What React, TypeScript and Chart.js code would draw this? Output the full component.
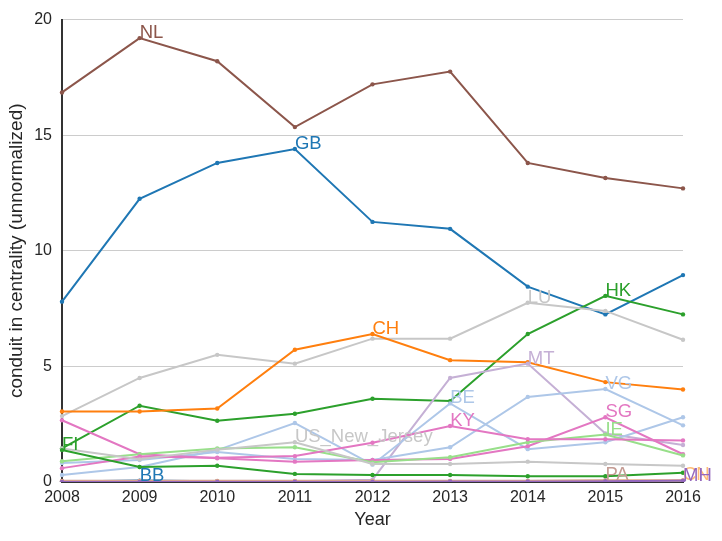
import React, { useEffect, useRef } from 'react';
import { Chart, registerables } from 'chart.js';
Chart.register(...registerables);

const years = ['2008', '2009', '2010', '2011', '2012', '2013', '2014', '2015', '2016'];

const NL = [16.85, 19.2, 18.2, 15.35, 17.2, 17.75, 13.8, 13.15, 12.7];
const GB = [7.8, 12.25, 13.8, 14.4, 11.25, 10.95, 8.45, 7.25, 8.95];
const HK = [1.45, 3.3, 2.65, 2.95, 3.6, 3.5, 6.4, 8.05, 7.25];
const LU = [2.85, 4.5, 5.5, 5.12, 6.2, 6.2, 7.75, 7.4, 6.15];
const CH = [3.05, 3.05, 3.18, 5.72, 6.4, 5.27, 5.18, 4.32, 4.0];
const MT = [0.03, 0.03, 0.03, 0.03, 0.1, 4.5, 5.12, 2.1, 1.6];
const VG = [0.82, 0.95, 1.3, 1.0, 0.95, 1.5, 3.68, 4.02, 2.45];
const BE = [0.3, 0.65, 1.38, 2.55, 0.75, 3.4, 1.42, 1.72, 2.8];
const SG = [2.67, 1.2, 1.03, 0.88, 0.95, 1.0, 1.55, 2.8, 1.2];
const IE = [0.9, 1.2, 1.45, 1.5, 0.85, 1.07, 1.72, 2.05, 1.15];
const KY = [0.6, 1.1, 1.05, 1.12, 1.7, 2.42, 1.85, 1.85, 1.8];
const US_NJ = [1.45, 0.98, 1.4, 1.72, 0.78, 0.78, 0.88, 0.78, 0.7];
const FI = [1.38, 0.65, 0.7, 0.35, 0.3, 0.3, 0.25, 0.25, 0.4];
const BB = [0.02, 0.06, 0.03, 0.02, 0.02, 0.02, 0.02, 0.02, 0.02];
const PA = [0.05, 0.05, 0.05, 0.05, 0.05, 0.05, 0.05, 0.08, 0.05];
const CN = [0.03, 0.03, 0.03, 0.03, 0.03, 0.03, 0.04, 0.05, 0.08];
const MH = [0.01, 0.01, 0.01, 0.01, 0.01, 0.02, 0.02, 0.03, 0.06];

const seriesNames = ['NL', 'GB', 'HK', 'LU', 'CH', 'MT', 'VG', 'BE', 'SG', 'IE', 'KY', 'US_New_Jersey', 'FI', 'BB', 'PA', 'CN', 'MH'];
const seriesValues = [NL, GB, HK, LU, CH, MT, VG, BE, SG, IE, KY, US_NJ, FI, BB, PA, CN, MH];
const seriesColors = ['#8c564b', '#1f77b4', '#2ca02c', '#c7c7c7', '#ff7f0e', '#c5b0d5', '#aec7e8', '#aec7e8', '#e377c2', '#98df8a', '#e377c2', '#c7c7c7', '#2ca02c', '#1f77b4', '#c49c94', '#ffbb78', '#9467bd'];

const yTicks = [0, 5, 10, 15, 20];
const xTitle = 'Year';
const yTitle = 'conduit in centrality (unnormalized)';

const FONT = '"Liberation Sans", Arial, sans-serif';

export default function App() {
  const ref = useRef<HTMLCanvasElement>(null);
  useEffect(() => {
    if (!ref.current) return;
    const labelPlugin = {
      id: 'maxLabels',
      afterDatasetsDraw(chart: any) {
        const ctx = chart.ctx;
        ctx.save();
        ctx.font = '18.5px ' + FONT;
        ctx.textAlign = 'left';
        ctx.textBaseline = 'alphabetic';
        chart.data.datasets.forEach((ds: any, i: number) => {
          const vals = ds.data as number[];
          let mi = 0;
          vals.forEach((v, j) => { if (v > vals[mi]) mi = j; });
          const pt = chart.getDatasetMeta(i).data[mi];
          ctx.fillStyle = ds.borderColor;
          ctx.fillText(ds.label, pt.x, pt.y);
        });
        ctx.restore();
      },
    };
    const chart = new Chart(ref.current, {
      type: 'line',
      data: {
        labels: years,
        datasets: seriesNames.map((name, i) => ({
          label: name,
          data: seriesValues[i],
          borderColor: seriesColors[i],
          backgroundColor: seriesColors[i],
          pointBackgroundColor: seriesColors[i],
          pointBorderWidth: 0,
          pointRadius: 2.2,
          borderWidth: 2,
          tension: 0,
          fill: false,
          order: -i,
        })),
      },
      options: {
        animation: false,
        responsive: false,
        devicePixelRatio: 1,
        layout: { padding: { left: 0, top: 17, right: 39, bottom: 0 } },
        plugins: { legend: { display: false }, tooltip: { enabled: false } },
        scales: {
          x: {
            type: 'category',
            offset: false,
            grid: { display: false, drawTicks: false },
            border: { display: true, color: '#333333', width: 2 },
            ticks: { color: '#262626', font: { family: FONT, size: 16 }, padding: 6, maxRotation: 0 },
            title: { display: true, text: xTitle, color: '#262626', font: { family: FONT, size: 18 }, padding: { top: 0, bottom: 10 } },
            afterFit: (s: any) => { s.height = 59; },
          },
          y: {
            min: 0,
            max: 20,
            afterBuildTicks: (s: any) => { s.ticks = yTicks.map((v) => ({ value: v })); },
            grid: { color: '#cccccc', lineWidth: 1, drawTicks: false },
            border: { display: true, color: '#333333', width: 2 },
            ticks: { color: '#262626', font: { family: FONT, size: 16 }, padding: 10 },
            title: { display: true, text: yTitle, color: '#262626', font: { family: FONT, size: 19 }, padding: { top: 5, bottom: 0 } },
            afterFit: (s: any) => { s.width = 62; },
          },
        },
      },
      plugins: [labelPlugin],
    });
    return () => chart.destroy();
  }, []);
  return (
    <div style={{ position: 'fixed', left: 0, top: 0, width: 722, height: 541, background: '#ffffff' }}>
      <canvas ref={ref} width={722} height={541} />
    </div>
  );
}
